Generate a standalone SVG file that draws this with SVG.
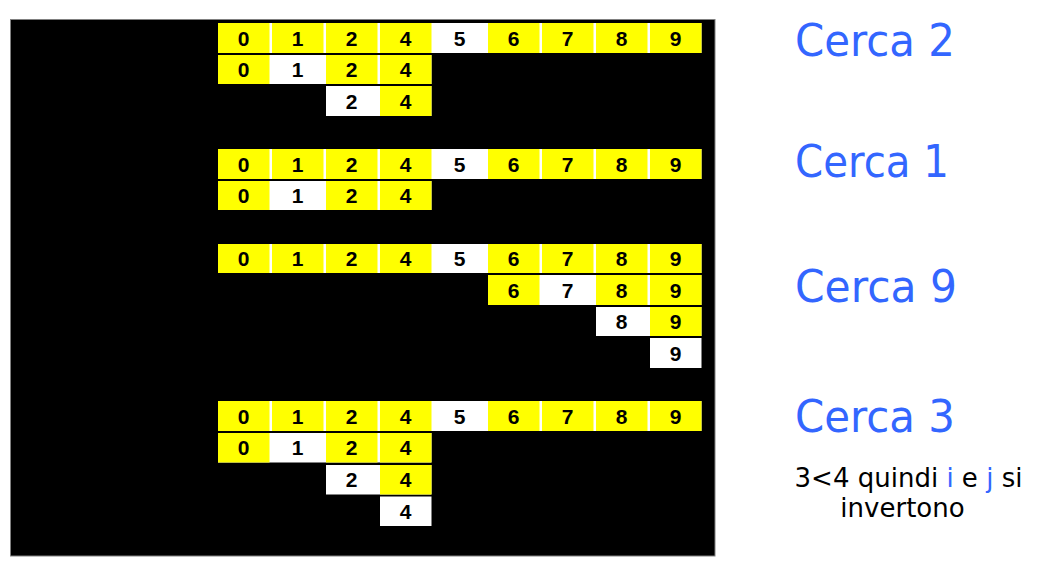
<svg xmlns="http://www.w3.org/2000/svg" width="1038" height="563" viewBox="0 0 1038 563">
<style>
.bg{fill:#000;stroke:#808080;stroke-width:1}
.w{fill:#fff}
.y{fill:#ffff00}
.d,.dn{font-family:"Liberation Sans",Arial,sans-serif;font-size:21px;font-weight:bold;fill:#000;text-anchor:middle}
.lbl{font-family:"DejaVu Sans","Noto Sans",sans-serif;font-size:44px;fill:#3366ff}
.note{font-family:"DejaVu Sans","Noto Sans",sans-serif;font-size:26px;fill:#000;text-anchor:middle}
.b{fill:#3366ff}
</style>
<rect class="bg" x="10.5" y="19.5" width="704.5" height="536.5"/>

<!-- Section 1: Cerca 2 -->
<g id="s1r1">
<rect class="w" x="218" y="23" width="483.5" height="30"/>
<rect class="y" x="218" y="23" width="51.5" height="30"/><rect class="y" x="272" y="23" width="51.5" height="30"/><rect class="y" x="326" y="23" width="51.5" height="30"/><rect class="y" x="380" y="23" width="51.5" height="30"/><rect class="y" x="488" y="23" width="51.5" height="30"/><rect class="y" x="542" y="23" width="51.5" height="30"/><rect class="y" x="596" y="23" width="51.5" height="30"/><rect class="y" x="650" y="23" width="51.5" height="30"/>
<text class="d" x="243.5" y="45.5">0</text><text class="d" x="297.5" y="45.5">1</text><text class="d" x="351.5" y="45.5">2</text><text class="d" x="405.5" y="45.5">4</text><text class="dn" x="459.5" y="45.5">5</text><text class="d" x="513.5" y="45.5">6</text><text class="d" x="567.5" y="45.5">7</text><text class="d" x="621.5" y="45.5">8</text><text class="d" x="675.5" y="45.5">9</text>
</g>
<g id="s1r2">
<rect class="w" x="218" y="55" width="213.5" height="29"/>
<rect class="y" x="218" y="55" width="51.5" height="29"/><rect class="y" x="326" y="55" width="51.5" height="29"/><rect class="y" x="380" y="55" width="51.5" height="29"/>
<text class="d" x="243.5" y="77">0</text><text class="dn" x="297.5" y="77">1</text><text class="d" x="351.5" y="77">2</text><text class="d" x="405.5" y="77">4</text>
</g>
<g id="s1r3">
<rect class="w" x="326" y="86" width="105.5" height="30"/>
<rect class="y" x="380" y="86" width="51.5" height="30"/>
<text class="dn" x="351.5" y="108.5">2</text><text class="d" x="405.5" y="108.5">4</text>
</g>

<!-- Section 2: Cerca 1 -->
<g id="s2r1">
<rect class="w" x="218" y="149" width="483.5" height="30"/>
<rect class="y" x="218" y="149" width="51.5" height="30"/><rect class="y" x="272" y="149" width="51.5" height="30"/><rect class="y" x="326" y="149" width="51.5" height="30"/><rect class="y" x="380" y="149" width="51.5" height="30"/><rect class="y" x="488" y="149" width="51.5" height="30"/><rect class="y" x="542" y="149" width="51.5" height="30"/><rect class="y" x="596" y="149" width="51.5" height="30"/><rect class="y" x="650" y="149" width="51.5" height="30"/>
<text class="d" x="243.5" y="171.5">0</text><text class="d" x="297.5" y="171.5">1</text><text class="d" x="351.5" y="171.5">2</text><text class="d" x="405.5" y="171.5">4</text><text class="dn" x="459.5" y="171.5">5</text><text class="d" x="513.5" y="171.5">6</text><text class="d" x="567.5" y="171.5">7</text><text class="d" x="621.5" y="171.5">8</text><text class="d" x="675.5" y="171.5">9</text>
</g>
<g id="s2r2">
<rect class="w" x="218" y="181" width="213.5" height="29"/>
<rect class="y" x="218" y="181" width="51.5" height="29"/><rect class="y" x="326" y="181" width="51.5" height="29"/><rect class="y" x="380" y="181" width="51.5" height="29"/>
<text class="d" x="243.5" y="203">0</text><text class="dn" x="297.5" y="203">1</text><text class="d" x="351.5" y="203">2</text><text class="d" x="405.5" y="203">4</text>
</g>

<!-- Section 3: Cerca 9 -->
<g id="s3r1">
<rect class="w" x="218" y="244" width="483.5" height="29"/>
<rect class="y" x="218" y="244" width="51.5" height="29"/><rect class="y" x="272" y="244" width="51.5" height="29"/><rect class="y" x="326" y="244" width="51.5" height="29"/><rect class="y" x="380" y="244" width="51.5" height="29"/><rect class="y" x="488" y="244" width="51.5" height="29"/><rect class="y" x="542" y="244" width="51.5" height="29"/><rect class="y" x="596" y="244" width="51.5" height="29"/><rect class="y" x="650" y="244" width="51.5" height="29"/>
<text class="d" x="243.5" y="266">0</text><text class="d" x="297.5" y="266">1</text><text class="d" x="351.5" y="266">2</text><text class="d" x="405.5" y="266">4</text><text class="dn" x="459.5" y="266">5</text><text class="d" x="513.5" y="266">6</text><text class="d" x="567.5" y="266">7</text><text class="d" x="621.5" y="266">8</text><text class="d" x="675.5" y="266">9</text>
</g>
<g id="s3r2">
<rect class="w" x="488" y="275" width="213.5" height="30"/>
<rect class="y" x="488" y="275" width="51.5" height="30"/><rect class="y" x="596" y="275" width="51.5" height="30"/><rect class="y" x="650" y="275" width="51.5" height="30"/>
<text class="d" x="513.5" y="297.5">6</text><text class="dn" x="567.5" y="297.5">7</text><text class="d" x="621.5" y="297.5">8</text><text class="d" x="675.5" y="297.5">9</text>
</g>
<g id="s3r3">
<rect class="w" x="596" y="307" width="105.5" height="29"/>
<rect class="y" x="650" y="307" width="51.5" height="29"/>
<text class="dn" x="621.5" y="329">8</text><text class="d" x="675.5" y="329">9</text>
</g>
<g id="s3r4">
<rect class="w" x="650" y="338" width="51.5" height="30"/>
<text class="dn" x="675.5" y="360.5">9</text>
</g>

<!-- Section 4: Cerca 3 -->
<g id="s4r1">
<rect class="w" x="218" y="401" width="483.5" height="30"/>
<rect class="y" x="218" y="401" width="51.5" height="30"/><rect class="y" x="272" y="401" width="51.5" height="30"/><rect class="y" x="326" y="401" width="51.5" height="30"/><rect class="y" x="380" y="401" width="51.5" height="30"/><rect class="y" x="488" y="401" width="51.5" height="30"/><rect class="y" x="542" y="401" width="51.5" height="30"/><rect class="y" x="596" y="401" width="51.5" height="30"/><rect class="y" x="650" y="401" width="51.5" height="30"/>
<text class="d" x="243.5" y="423.5">0</text><text class="d" x="297.5" y="423.5">1</text><text class="d" x="351.5" y="423.5">2</text><text class="d" x="405.5" y="423.5">4</text><text class="dn" x="459.5" y="423.5">5</text><text class="d" x="513.5" y="423.5">6</text><text class="d" x="567.5" y="423.5">7</text><text class="d" x="621.5" y="423.5">8</text><text class="d" x="675.5" y="423.5">9</text>
</g>
<g id="s4r2">
<rect class="w" x="218" y="433" width="213.5" height="29.5"/>
<rect class="y" x="218" y="433" width="51.5" height="29.5"/><rect class="y" x="326" y="433" width="51.5" height="29.5"/><rect class="y" x="380" y="433" width="51.5" height="29.5"/>
<text class="d" x="243.5" y="455">0</text><text class="dn" x="297.5" y="455">1</text><text class="d" x="351.5" y="455">2</text><text class="d" x="405.5" y="455">4</text>
</g>
<g id="s4r3">
<rect class="w" x="326" y="465" width="105.5" height="29.5"/>
<rect class="y" x="380" y="465" width="51.5" height="29.5"/>
<text class="dn" x="351.5" y="487">2</text><text class="d" x="405.5" y="487">4</text>
</g>
<g id="s4r4">
<rect class="w" x="380" y="496.5" width="51.5" height="29.5"/>
<text class="dn" x="405.5" y="518.5">4</text>
</g>

<g id="labels">
<text class="lbl" x="795" y="55.5" textLength="160" lengthAdjust="spacingAndGlyphs">Cerca 2</text>
<text class="lbl" x="795" y="177" textLength="154" lengthAdjust="spacingAndGlyphs">Cerca 1</text>
<text class="lbl" x="795" y="302" textLength="162" lengthAdjust="spacingAndGlyphs">Cerca 9</text>
<text class="lbl" x="795" y="431.5" textLength="160" lengthAdjust="spacingAndGlyphs">Cerca 3</text>
<text class="note" x="908.5" y="487">3&lt;4 quindi <tspan class="b">i</tspan> e <tspan class="b">j</tspan> si</text>
<text class="note" x="902.5" y="517">invertono</text>
</g>
</svg>
